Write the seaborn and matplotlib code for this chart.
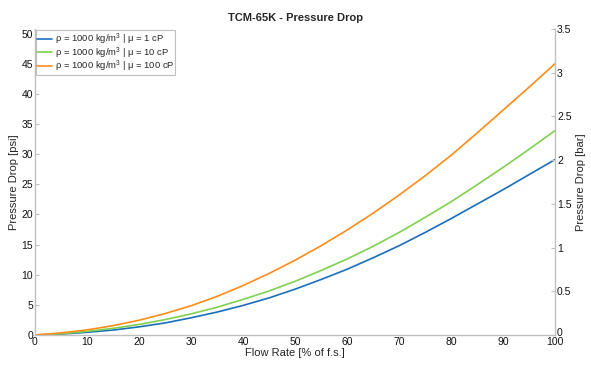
import numpy as np
import pandas as pd
import matplotlib
matplotlib.use("Agg")
import matplotlib.pyplot as plt
import matplotlib.transforms as mtransforms
import seaborn as sns

flow = [0, 5, 10, 15, 20, 25, 30, 35, 40, 45, 50, 55, 60, 65, 70, 75, 80, 85, 90, 95, 100]
dp_1cp = [0, 0.15, 0.45, 0.82, 1.35, 2.0, 2.85, 3.8, 4.9, 6.15, 7.6, 9.2, 10.9, 12.8, 14.8, 17.0, 19.3, 21.7, 24.1, 26.6, 29.1]
dp_10cp = [0, 0.2, 0.6, 1.1, 1.75, 2.55, 3.5, 4.6, 5.9, 7.3, 8.9, 10.7, 12.6, 14.7, 17.0, 19.5, 22.1, 24.9, 27.8, 30.8, 33.9]
dp_100cp = [0, 0.35, 0.85, 1.55, 2.45, 3.55, 4.85, 6.4, 8.2, 10.2, 12.4, 14.8, 17.4, 20.2, 23.2, 26.4, 29.8, 33.5, 37.3, 41.1, 45.0]
labels = ["ρ = 1000 kg/m$^3$ | μ = 1 cP",
          "ρ = 1000 kg/m$^3$ | μ = 10 cP",
          "ρ = 1000 kg/m$^3$ | μ = 100 cP"]
colors = ["#1a6fba", "#7fd04f", "#ff8c1a"]
PSI_PER_BAR = 14.5038

df = pd.DataFrame({
    "flow": flow * 3,
    "dp": dp_1cp + dp_10cp + dp_100cp,
    "series": [labels[0]] * len(flow) + [labels[1]] * len(flow) + [labels[2]] * len(flow),
})

sns.set_style("white")
plt.rcParams["font.family"] = ["Liberation Sans", "DejaVu Sans"]
plt.rcParams["mathtext.fontset"] = "custom"
plt.rcParams["mathtext.rm"] = "Liberation Sans"

fig = plt.figure(figsize=(5.91, 3.77), dpi=100)
ax = fig.add_axes([35 / 591, 1 - 335 / 377, 520 / 591, 306 / 377])

sns.lineplot(data=df, x="flow", y="dp", hue="series", palette=colors,
             linewidth=1.2, ax=ax, legend=True)

ax.set_xlim(0, 100)
ax.set_ylim(0, 3.5 * PSI_PER_BAR)
ax.set_xticks(range(0, 101, 10))
ax.set_yticks(range(0, 51, 5))
ax.set_xlabel("Flow Rate [% of f.s.]", fontsize=8, labelpad=1)
ax.set_ylabel("Pressure Drop [psi]", fontsize=8, labelpad=2)
ax.set_title("TCM-65K - Pressure Drop", fontsize=8, fontweight="bold", pad=6)

ax2 = ax.twinx()
ax2.set_ylim(0, 3.5)
ax2.set_yticks(np.arange(0, 3.51, 0.5))
ax2.set_yticklabels(["0", "0.5", "1", "1.5", "2", "2.5", "3", "3.5"])
ax2.set_ylabel("Pressure Drop [bar]", fontsize=8, labelpad=3)

spine_col = "#c0c0c0"
for a in (ax, ax2):
    for s in a.spines.values():
        s.set_color(spine_col)
        s.set_linewidth(1.0)
    a.spines["top"].set_visible(False)
    a.tick_params(direction="in", length=3, width=0.8, color=spine_col,
                  labelsize=7.5, pad=1.5, labelcolor="#111111")
ax.spines["right"].set_visible(False)
ax2.spines["left"].set_visible(False)
ax2.spines["bottom"].set_visible(False)
ax.tick_params(axis="y", right=False)

# nudge the right-axis "0" label up slightly so it does not sit on the "100"
zero_lbl = ax2.get_yticklabels()[0]
zero_lbl.set_transform(zero_lbl.get_transform() +
                       mtransforms.ScaledTranslation(0, 3 / 100, fig.dpi_scale_trans))

leg = ax.legend(loc="upper left", fontsize=6.8, frameon=True, fancybox=False,
                borderpad=0.1, handlelength=1.6, handletextpad=0.25,
                labelspacing=-0.15, borderaxespad=0.15)
leg.get_frame().set_edgecolor("#b0b0b0")
leg.get_frame().set_linewidth(0.8)

fig.savefig("out.png", dpi=100)
